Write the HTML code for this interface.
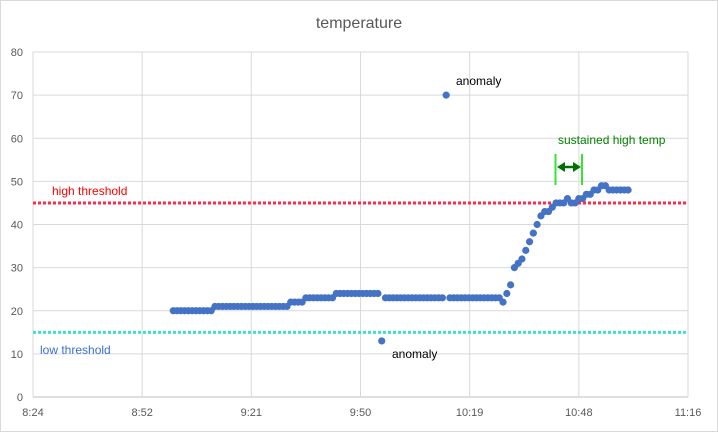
<!DOCTYPE html>
<html><head><meta charset="utf-8"><style>
body{margin:0;background:#fff}
svg{display:block;font-family:"Liberation Sans",sans-serif}
</style></head><body>
<svg id="chart" width="718" height="432">
<rect x="0.5" y="0.5" width="717" height="431" fill="#fff" stroke="#d9d9d9"/>
<text x="359" y="28" text-anchor="middle" font-size="16" fill="#595959">temperature</text>
<g id="grid"></g><g id="axes"></g><g id="thr"></g><g id="pts"></g><g id="ann"></g>
</svg>
<script>
const yTicks=[0,10,20,30,40,50,60,70,80];
const xTickLabels=["8:24","8:52","9:21","9:50","10:19","10:48","11:16"];
const xTickMinutes=[504,532.8,561.6,590.4,619.2,648,676.8];
const startMinute=541;
const temps=[20,20,20,20,20,20,20,20,20,20,20,
21,21,21,21,21,21,21,21,21,21,21,21,21,21,21,21,21,21,21,21,
22,22,22,22,
23,23,23,23,23,23,23,23,
24,24,24,24,24,24,24,24,24,24,24,24,
13,
23,23,23,23,23,23,23,23,23,23,23,23,23,23,23,23,
70,
23,23,23,23,23,23,23,23,23,23,23,23,23,23,
22,24,26,30,31,32,34,36,38,40,42,43,43,44,45,45,45,46,45,45,46,46,47,47,48,48,49,49,48,48,48,48,48,48];
const highThreshold=45, lowThreshold=15;
const X0=33,X1=688,Y0=397,Y1=52;
const xS=m=>X0+(m-504)*(X1-X0)/(676.8-504);
const yS=v=>Y0-v*(Y0-Y1)/80;
const NS="http://www.w3.org/2000/svg";
function mk(tag,attrs,parent,txt){const e=document.createElementNS(NS,tag);for(const k in attrs)e.setAttribute(k,attrs[k]);if(txt!=null)e.textContent=txt;document.getElementById(parent).appendChild(e);return e;}
yTicks.forEach(v=>{
  const l=mk('line',{x1:X0,x2:X1,y1:yS(v),y2:yS(v),stroke:v===0?'#bfbfbf':'#d9d9d9','stroke-width':1},'grid');
  
  
  const t=mk('text',{x:23,y:yS(v)+4,'text-anchor':'end','font-size':11,fill:'#595959'},'axes',v);
  
  
});
xTickMinutes.forEach((m,i)=>{
  const l=mk('line',{x1:xS(m),x2:xS(m),y1:Y1,y2:Y0,stroke:'#d9d9d9','stroke-width':1},'grid');
  
  
  const t=mk('text',{x:xS(m),y:416,'text-anchor':'middle','font-size':11,fill:'#595959'},'axes',xTickLabels[i]);
  
  
});
const hl=mk('line',{x1:X0,x2:X1,y1:yS(highThreshold),y2:yS(highThreshold),stroke:'#ff2a4a','stroke-width':3,'stroke-dasharray':'3 2'},'thr');


const ll=mk('line',{x1:X0,x2:X1,y1:yS(lowThreshold),y2:yS(lowThreshold),stroke:'#40e0d0','stroke-width':3,'stroke-dasharray':'3 2'},'thr');


temps.forEach((v,i)=>{
  const c=mk('circle',{cx:xS(startMinute+i),cy:yS(v),r:3.6,fill:'#4472c4'},'pts');
  
  
});
</script>
<script>
(function(){
const a=document.getElementById('ann');
a.innerHTML=`
<text x="52" y="195" font-size="12" fill="#ff0000">high threshold</text>
<text x="40" y="354" font-size="12" fill="#3a6fd8">low threshold</text>
<text x="456" y="85" font-size="12" fill="#000">anomaly</text>
<text x="392" y="358" font-size="12" fill="#000">anomaly</text>
<text x="558" y="144" font-size="12" fill="#008000">sustained high temp</text>
<g>
<line x1="555.5" x2="555.5" y1="154" y2="185" stroke="#33e633" stroke-width="2"/>
<line x1="582" x2="582" y1="154" y2="185" stroke="#33e633" stroke-width="2"/>
<line x1="562" x2="576" y1="167" y2="167" stroke="#007000" stroke-width="2.5"/>
<polygon points="557,167 565,162 565,172" fill="#007000"/>
<polygon points="581,167 573,162 573,172" fill="#007000"/>
</g>`;
})();
</script>
</body></html>
